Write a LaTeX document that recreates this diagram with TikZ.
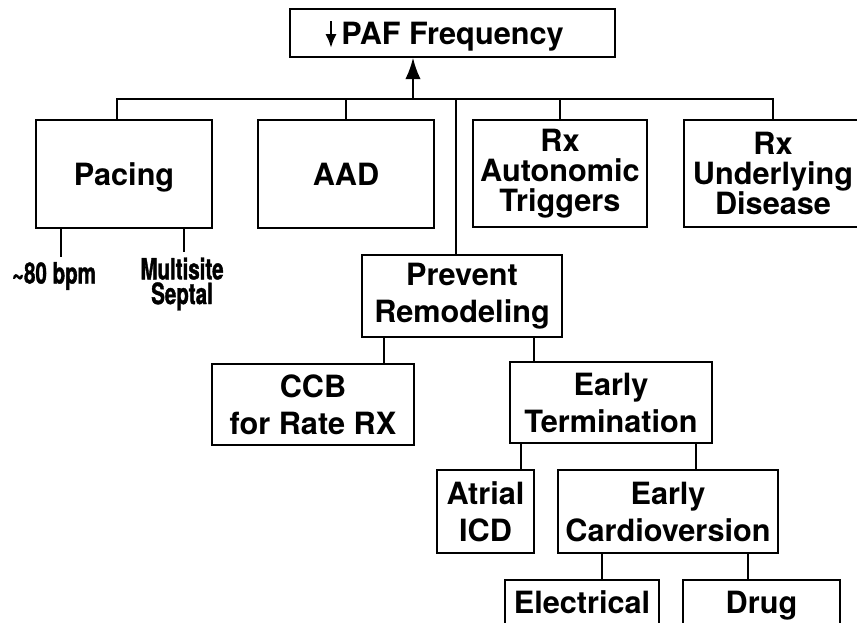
\documentclass[tikz,border=0pt]{standalone}
\usepackage{fontspec}
\setmainfont{TeX Gyre Heros}
\newfontfamily\narrowfont[FakeStretch=0.7, FakeBold=1.2]{TeX Gyre Heros}
\usetikzlibrary{arrows.meta}
\tikzset{>={Latex[length=16pt,width=11.5pt]}}
\tikzset{
    block/.style={draw, line width=1.1pt, align=center, inner sep=0pt,
        font=\bfseries\fontsize{23}{27.75}\selectfont},
    oneline/.style={text height=16.5pt, text depth=0pt},
    threeline/.style={font=\bfseries\fontsize{23}{22.5}\selectfont},
    conn/.style={line width=1.5pt},
    tag/.style={inner xsep=0pt, inner ysep=4pt, align=center,
        font=\narrowfont\bfseries\fontsize{22}{18.5}\selectfont}
}

\begin{document}
\begin{tikzpicture}[x=0.75pt, y=-0.75pt]

    \useasboundingbox (0,0) rectangle (857,622);
    \clip (0,0) rectangle (857,622);

    \node[block, oneline, minimum width=243.75pt, minimum height=36pt] (paf) at (452.5,33) {PAF Frequency};
    \coordinate (dntop) at (331,21);
    \coordinate (dnbot) at (331,48);
    \draw[line width=2pt, -{Latex[length=10.5pt,width=8.5pt]}] (dntop) -- (dnbot);

    \node[block, oneline, minimum width=132pt, minimum height=81pt] (pacing) at (124,174) {Pacing};
    \node[block, oneline, minimum width=132pt, minimum height=81pt] (aad) at (346,174) {AAD};
    \node[block, threeline, minimum width=130.5pt, minimum height=80.25pt] (rxauto) at (560,173.5) {Rx\\Autonomic\\Triggers};
    \node[block, threeline, minimum width=133.5pt, minimum height=80.25pt] (rxdis) at (773,173.5) {Rx\\Underlying\\Disease};

    \node[tag, text height=15.8pt, text depth=0pt] (bpm) at (54,273) {\textasciitilde 80 bpm};
    \node[tag] (septal) at (182,284) {Multisite\\Septal};

    \node[block, minimum width=150pt, minimum height=61.5pt] (prevent) at (462,296) {Prevent\\Remodeling};
    \node[block, minimum width=151.5pt, minimum height=60.75pt] (ccb) at (313,404.5) {CCB\\for Rate RX};
    \node[block, minimum width=151.5pt, minimum height=60.75pt] (earlyterm) at (611,402.5) {Early\\Termination};
    \node[block, minimum width=72.75pt, minimum height=62.25pt] (icd) at (485.5,511.5) {Atrial\\ICD};
    \node[block, minimum width=165pt, minimum height=62.25pt] (earlycv) at (668,511.5) {Early\\Cardioversion};
    \node[block, oneline, minimum width=115.5pt, minimum height=33pt] (elec) at (582,602) {Electrical};
    \node[block, oneline, minimum width=117.75pt, minimum height=33pt] (drug) at (761.5,602) {Drug};

    \coordinate (bus) at (413,99);
    \coordinate (split) at (456,99);
    \draw[conn] ([xshift=-5.25pt]pacing.north) |- (bus) -| (rxdis.north);
    \foreach \n in {aad,rxauto}
        \draw[conn] (\n.north) -- (\n.north |- bus);
    \draw[conn, ->] (bus) -- (bus |- paf.south);
    \draw[conn] (split) -- (split |- prevent.north);

    \foreach \p/\s/\c in {pacing/26/bpm, pacing/149/septal, prevent/23/ccb, prevent/173/earlyterm,
                          earlyterm/12/icd, earlyterm/187/earlycv, earlycv/45/elec, earlycv/191/drug}
    {
        \draw[conn] ([xshift=\s*0.75pt]\p.south west) coordinate (from) -- (from |- \c.north);
    }

\end{tikzpicture}
\end{document}
